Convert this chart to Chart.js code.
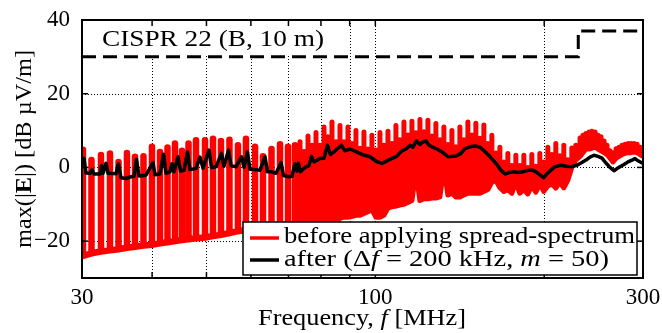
<!DOCTYPE html>
<html><head><meta charset="utf-8">
<script src="https://cdn.jsdelivr.net/npm/chart.js@4/dist/chart.umd.min.js"></script>
<style>html,body{margin:0;padding:0;background:#fff;overflow:hidden}canvas{display:block}</style>
</head><body>
<canvas id="c" width="662" height="333"></canvas>
<script>
// ---------- axis ticks ----------
const xTickValues = [30, 40, 50, 60, 70, 80, 90, 100, 200, 300];
const xTickLabels = [30, 100, 300];
const xGridValues = [40, 50, 60, 70, 80, 90, 100, 200];
const yTickValues = [-20, 0, 20, 40];
const yGridValues = [-20, 0, 20];

// ---------- CISPR 22 class B (10 m) limit ----------
const limitFreq = [30, 230, 230, 300];
const limitVal = [30, 30, 37, 37];

// ---------- "before applying spread-spectrum": harmonic peaks (MHz, dB) ----------
const redFreq = [
  30.12, 31.19, 32.43, 33.65, 34.85, 36.08, 37.29, 38.61, 39.98, 41.32,
  42.61, 43.94, 45.22, 46.45, 47.90, 49.70, 51.36, 53.07, 54.95, 56.90,
  58.80, 61.03, 63.06, 65.30, 67.62, 69.87, 71.91,
  73.40, 74.62, 75.85, 77.11, 78.38, 79.68, 81.00, 82.34, 83.70, 85.08,
  86.49, 87.92, 89.37, 90.85, 92.35, 93.88, 95.43, 97.01, 98.62, 100.25,
  101.91, 103.59, 105.31, 107.05, 108.82, 110.62, 112.45, 114.31, 116.20, 118.12,
  120.08, 122.06, 124.08, 126.13, 128.22, 130.34, 132.50, 134.69, 136.92, 139.18,
  141.49, 143.83, 146.21, 148.63, 151.08, 153.58, 156.12, 158.71, 161.33, 164.00,
  166.71, 169.47, 172.27, 175.12, 178.02, 180.96, 183.96, 187.00, 190.09, 193.24,
  196.43, 199.68, 202.98, 206.34, 209.75, 213.22, 216.75, 220.33, 223.98, 227.68,
  231.7, 234.5, 237.4, 240.4, 243.3, 246.4, 249.4, 252.5, 255.7, 258.8,
  262.0, 265.3, 268.6, 271.9, 275.3, 278.7, 282.2, 285.6, 289.2, 292.8,
  296.4, 300.0
];
const redPeak = [
  4.8, 2.0, 3.4, 3.8, 1.5, 3.9, 2.9, 3.0, 5.6, 4.2,
  5.4, 6.5, 4.5, 6.5, 7.4, 7.4, 7.8, 7.2, 7.5, 6.0,
  7.8, 5.6, 3.0, 5.0, 6.3, 5.6, 6.0,
  7.0, 4.3, 8.5, 6.0, 9.5, 6.0, 11.0, 8.3, 12.3, 7.0,
  11.4, 7.0, 11.0, 6.5, 10.0, 5.2, 9.6, 5.0, 8.7, 4.7,
  9.5, 6.0, 9.8, 6.5, 11.4, 7.5, 12.3, 8.8, 12.5, 9.4,
  13.0, 9.7, 12.8, 8.5, 11.9, 7.5, 11.0, 6.2, 10.0, 5.6,
  11.0, 7.5, 12.3, 8.8, 12.0, 7.9, 11.5, 6.5, 8.7, 3.9,
  5.5, 1.5, 3.8, 0.5, 3.3, 0.5, 3.3, 0.0, 3.5, 0.3,
  3.8, 1.5, 5.5, 3.5, 6.5, 3.2, 6.0, 2.1, 5.3, 6.0,
  8.0, 8.7, 9.2, 9.6, 9.8, 9.6, 8.7, 8.3, 7.2, 6.0,
  4.5, 4.0, 5.1, 5.5, 6.0, 6.3, 6.5, 6.5, 6.5, 6.3,
  5.5, 5.0
];
const redTrough = [
  -24.0, -23.3, -22.8, -22.5, -22.2, -21.8, -21.5, -21.2, -21.0, -20.6,
  -20.3, -20.0, -19.7, -19.5, -19.2, -19.0, -18.6, -18.3, -17.8, -17.3,
  -17.0, -16.7, -16.4, -16.2, -16.0, -15.8, -15.6,
  -15.5, -15.5, -15.5, -15.5, -15.5, -15.5, -15.5, -15.5, -15.5, -15.0,
  -13.8, -13.5, -13.5, -13.3, -13.0, -13.0, -12.5, -12.0, -11.5, -13.5,
  -13.5, -13.0, -11.0, -10.7, -10.5, -10.2, -10.0, -9.5, -9.0, -1.0,
  -9.0, -8.5, -8.5, -8.3, -8.3, -8.0, 0.0, -7.5, -7.0, -8.0,
  -8.0, -7.5, -7.0, -7.0, -7.0, -7.0, -6.5, -6.0, -4.0, -3.5,
  -5.5, -6.5, -6.0, -7.0, -4.0, -7.0, -6.0, -7.2, -5.0, -6.7,
  -4.5, -6.5, -5.0, -4.5, -5.6, -4.0, -5.5, -3.5, 0.0, 2.0,
  3.0, 4.0, 5.0, 5.0, 5.2, 5.5, 5.0, 4.5, 4.0, 3.5,
  2.5, 1.5, 2.5, 3.0, 3.5, 3.8, 4.0, 4.0, 4.2, 4.0,
  3.5, 3.0
];

// ---------- "after (Δf = 200 kHz, m = 50)" ----------
const blackFreq = [
  30.00, 30.25, 30.50, 31.00, 31.26, 31.51, 32.30, 32.50, 32.70, 33.11,
  33.38, 34.49, 34.85, 35.21, 35.94, 36.53, 37.14, 37.52, 37.91, 39.01,
  40.15, 40.48, 41.32, 41.92, 42.35, 43.05, 43.41, 43.76, 44.49, 44.95,
  45.60, 46.26, 46.73, 47.90, 48.69, 49.30, 50.52, 51.05, 52.00, 53.18,
  53.73, 54.73, 55.30, 56.45, 57.73, 58.33, 59.17, 59.78, 61.27, 62.29,
  63.58, 64.24, 65.43, 66.52, 67.90, 68.60, 69.87, 71.03, 71.91, 72.50,
  72.95, 73.55, 74.92, 76.16, 76.95, 77.74, 79.68, 81.00, 82.17, 83.19,
  84.39, 85.44, 87.03, 88.29, 90.12, 92.56, 95.06, 97.83, 100.48, 102.77,
  106.20, 109.07, 111.56, 113.41, 115.29, 116.71, 118.40, 120.12, 121.11, 123.11,
  124.64, 126.18, 128.80, 131.47, 134.74, 136.97, 139.24, 142.13, 144.48, 147.48,
  150.53, 153.65, 155.56, 158.78, 162.07, 164.76, 167.48, 170.26, 173.08, 175.94,
  179.59, 183.31, 187.11, 190.21, 193.36, 196.56, 199.40, 201.46, 203.96, 209.04,
  214.25, 218.70, 223.23, 228.80, 232.58, 237.41, 241.34, 245.33, 249.39, 253.52,
  257.72, 261.98, 266.32, 269.62, 272.96, 277.48, 282.07, 286.74, 290.29, 293.89,
  300.00
];
const blackVal = [
  2.4, 2.4, -1.5, -1.6, -0.6, -1.8, -1.8, 0.5, -1.6, 1.1,
  -1.6, -1.7, 1.0, -2.8, -3.0, -2.6, -2.4, 2.2, -2.3, -2.1,
  1.3, -2.0, -1.8, 3.6, -1.6, -1.2, 1.0, -1.2, 2.9, -1.0,
  -0.8, 4.2, -0.6, -0.3, 2.8, -0.2, 4.7, 0.0, 0.2, 3.8,
  0.3, 4.7, 0.5, 0.2, 2.9, 0.0, 4.2, -0.5, -0.6, -0.8,
  2.9, -1.2, -1.2, -1.6, 1.3, -2.2, -2.5, -2.4, 1.0, -1.0,
  1.1, -1.2, 0.0, 0.5, 3.0, 1.5, 2.4, 2.5, 6.0, 3.5,
  4.2, 5.0, 6.0, 4.5, 5.0, 4.2, 3.4, 2.9, 1.6, 1.1,
  2.2, 3.0, 4.5, 5.0, 6.0, 5.5, 7.2, 6.2, 6.8, 7.2,
  6.0, 5.6, 5.0, 4.2, 2.9, 3.0, 3.1, 3.8, 5.1, 5.6,
  5.8, 5.5, 4.8, 3.5, 2.0, 0.8, -0.8, -1.8, -1.4, -1.2,
  -1.4, -1.2, -0.8, -0.7, -1.2, -2.0, -2.8, -2.0, -1.2, 0.2,
  0.6, 0.3, 0.2, 0.6, 1.2, 2.0, 2.8, 3.3, 3.0, 2.5,
  1.2, 0.0, -0.9, -0.3, 0.2, 0.8, 1.5, 2.0, 2.4, 1.8,
  1.1
];

// ---------- build datasets from the arrays ----------
const redPoints = [];
redFreq.forEach((f, i) => {
  redPoints.push({x: f, y: redTrough[i]}, {x: f, y: redPeak[i]}, {x: f, y: redTrough[i]});
});
const blackPoints = blackFreq.map((f, i) => ({x: f, y: blackVal[i]}));
const limitPoints = limitFreq.map((f, i) => ({x: f, y: limitVal[i]}));

const FAM = '"Liberation Serif", "Times New Roman", serif';
const R = '24px ' + FAM, I = 'italic 24px ' + FAM, B = 'bold 24px ' + FAM;

function drawRich(ctx, segs, x, y, width, rotate) {
  ctx.save();
  let total = 0;
  segs.forEach(s => { ctx.font = s[1]; total += ctx.measureText(s[0]).width; });
  ctx.translate(x, y);
  if (rotate) ctx.rotate(-Math.PI / 2);
  ctx.scale(width / total, 1);
  ctx.fillStyle = '#000';
  ctx.textBaseline = 'alphabetic';
  ctx.textAlign = 'left';
  let cx = 0;
  segs.forEach(s => { ctx.font = s[1]; ctx.fillText(s[0], cx, 0); cx += ctx.measureText(s[0]).width; });
  ctx.restore();
}

const decor = {
  id: 'decor',
  beforeDatasetsDraw(chart) {
    const {ctx, chartArea: a, scales: {x, y}} = chart;
    ctx.save();
    ctx.strokeStyle = '#000';
    ctx.lineWidth = 1;
    ctx.setLineDash([1, 2]);
    xGridValues.forEach(v => {
      const px = Math.round(x.getPixelForValue(v)) + 0.5;
      ctx.beginPath(); ctx.moveTo(px, a.top); ctx.lineTo(px, a.bottom); ctx.stroke();
    });
    yGridValues.forEach(v => {
      const py = Math.round(y.getPixelForValue(v)) + 0.5;
      ctx.beginPath(); ctx.moveTo(a.left, py); ctx.lineTo(a.right, py); ctx.stroke();
    });
    ctx.setLineDash([]);
    // white background of the limit label
    ctx.fillStyle = '#fff';
    ctx.fillRect(a.left + 2, a.top + 1, 248, y.getPixelForValue(30) - a.top - 3);
    ctx.restore();
    drawRich(ctx, [['CISPR 22 (B, 10 m)', R]], 102, 46, 222);
  },
  afterDraw(chart) {
    const {ctx, chartArea: a, scales: {x, y}} = chart;
    ctx.save();
    ctx.strokeStyle = '#000';
    // inward ticks
    ctx.lineWidth = 1.5;
    xGridValues.forEach(v => {
      const px = x.getPixelForValue(v);
      ctx.beginPath(); ctx.moveTo(px, a.bottom); ctx.lineTo(px, a.bottom - 6); ctx.stroke();
      ctx.beginPath(); ctx.moveTo(px, a.top); ctx.lineTo(px, a.top + 6); ctx.stroke();
    });
    yGridValues.forEach(v => {
      const py = y.getPixelForValue(v);
      ctx.beginPath(); ctx.moveTo(a.left, py); ctx.lineTo(a.left + 6, py); ctx.stroke();
      ctx.beginPath(); ctx.moveTo(a.right, py); ctx.lineTo(a.right - 6, py); ctx.stroke();
    });
    // frame
    ctx.lineWidth = 2;
    ctx.strokeRect(a.left, a.top, a.right - a.left, a.bottom - a.top);
    // legend
    ctx.fillStyle = '#fff';
    ctx.fillRect(243, 222, 394, 53);
    ctx.lineWidth = 1.5;
    ctx.strokeRect(243, 222, 394, 53);
    ctx.lineWidth = 3.5;
    ctx.strokeStyle = '#ff0000';
    ctx.beginPath(); ctx.moveTo(250, 238); ctx.lineTo(279, 238); ctx.stroke();
    ctx.strokeStyle = '#000';
    ctx.beginPath(); ctx.moveTo(250, 260); ctx.lineTo(279, 260); ctx.stroke();
    ctx.restore();
    drawRich(ctx, [['before applying spread-spectrum', R]], 284, 243, 351);
    drawRich(ctx, [['after (Δ', R], ['f', I], [' = 200 kHz, ', R], ['m', I], [' = 50)', R]], 284, 266, 325);
    // axis titles
    drawRich(ctx, [['Frequency, ', R], ['f', I], [' [MHz]', R]], 258, 325, 208);
    drawRich(ctx, [['max(|', R], ['E', B], ['|) [dB µV/m]', R]], 31, 248, 198, true);
  }
};

new Chart(document.getElementById('c'), {
  type: 'line',
  data: {
    datasets: [
      {data: redPoints, borderColor: '#ff0000', borderWidth: 5, pointRadius: 0, tension: 0, borderJoinStyle: 'round', order: 3,
       segment: {borderWidth: c => (c.p0.parsed.x < 72.5 ? 6.5 : 5)}},
      {data: blackPoints, borderColor: '#000000', borderWidth: 3.5, pointRadius: 0, tension: 0, borderJoinStyle: 'round', order: 2},
      {data: limitPoints, borderColor: '#000000', borderWidth: 3, borderDash: [14, 7], pointRadius: 0, tension: 0, order: 1}
    ]
  },
  options: {
    responsive: false,
    animation: false,
    devicePixelRatio: 1,
    layout: {padding: {top: 20, right: 19, left: 0, bottom: 0}},
    plugins: {legend: {display: false}, tooltip: {enabled: false}},
    scales: {
      x: {
        type: 'logarithmic', min: 30, max: 300,
        afterBuildTicks: s => { s.ticks = xTickValues.map(v => ({value: v})); },
        afterFit: s => { s.height = 55; },
        ticks: {autoSkip: false, maxRotation: 0, minRotation: 0, padding: -2, color: '#000',
          font: {family: FAM, size: 23},
          callback: v => xTickLabels.includes(v) ? String(v) : ''},
        grid: {display: false},
        border: {display: false}
      },
      y: {
        type: 'linear', min: -30, max: 40,
        afterBuildTicks: s => { s.ticks = yTickValues.map(v => ({value: v})); },
        afterFit: s => { s.width = 82; },
        ticks: {padding: 4, color: '#000', font: {family: FAM, size: 23},
          callback: v => v < 0 ? '\u2212' + Math.abs(v) : String(v)},
        grid: {display: false},
        border: {display: false}
      }
    }
  },
  plugins: [decor]
});
</script>
</body></html>
